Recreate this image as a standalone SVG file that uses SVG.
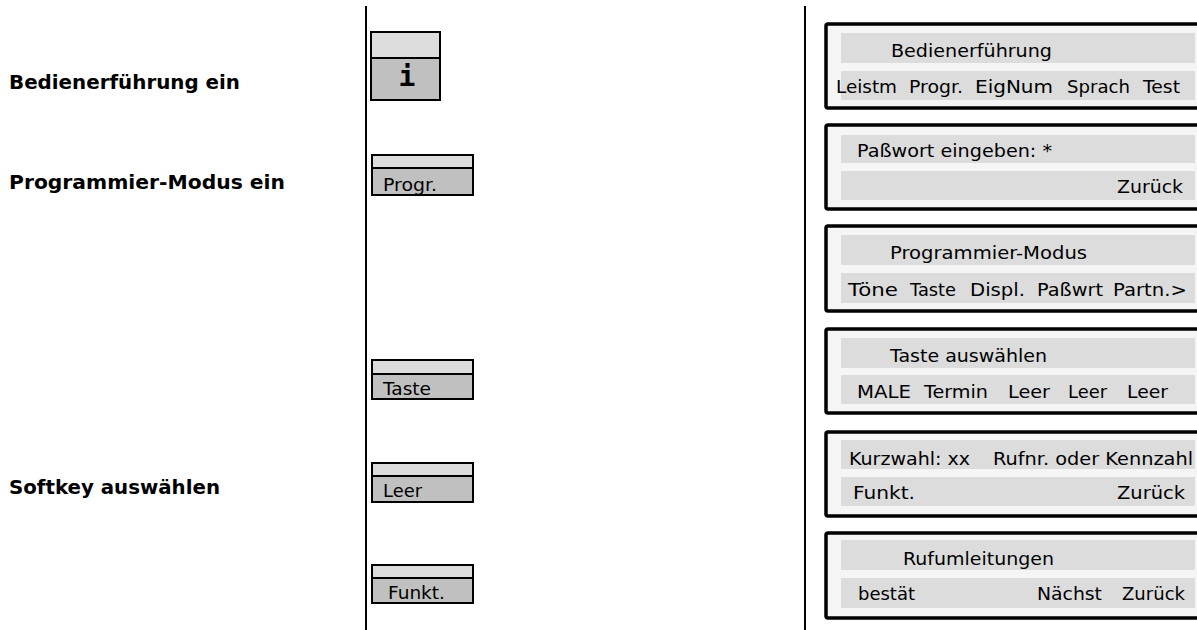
<svg xmlns="http://www.w3.org/2000/svg" width="1197" height="630" viewBox="0 0 1197 630">
<style>
.lbl{font-family:"DejaVu Sans","Liberation Sans",sans-serif;font-weight:bold;font-size:20px;fill:#000}
.kt{font-family:"DejaVu Sans","Liberation Sans",sans-serif;font-size:18px;fill:#000}
.pt{font-family:"DejaVu Sans","Liberation Sans",sans-serif;font-size:17.5px;fill:#000}
.ktop{fill:#dcdcdc;stroke:#000;stroke-width:2}
.kbot{fill:#c0c0c0;stroke:#000;stroke-width:2}
.panel{fill:#f5f5f5;stroke:#000;stroke-width:3.5}
.band{fill:#dcdcdc}
.sep{stroke:#000;stroke-width:2}
</style>
<rect width="1197" height="630" fill="#fff"/>
<g id="separators">
<line class="sep" x1="366" y1="6" x2="366" y2="630"/>
<line class="sep" x1="805" y1="6" x2="805" y2="630"/>
</g>
<g id="labels">
<text class="lbl" x="9" y="89" textLength="231" lengthAdjust="spacingAndGlyphs">Bedienerführung ein</text>
<text class="lbl" x="9" y="189" textLength="276" lengthAdjust="spacingAndGlyphs">Programmier-Modus ein</text>
<text class="lbl" x="9" y="494" textLength="211" lengthAdjust="spacingAndGlyphs">Softkey auswählen</text>
</g>
<g id="key-i">
<rect class="ktop" x="371" y="32" width="69" height="26"/>
<rect class="kbot" x="371" y="58" width="69" height="42"/>
<text x="407" y="86" text-anchor="middle" style="font-family:'DejaVu Sans Mono','Liberation Mono',monospace;font-weight:bold;font-size:28px">i</text>
</g>
<g id="key-progr">
<rect class="ktop" x="372" y="155" width="101" height="13"/>
<rect class="kbot" x="372" y="168" width="101" height="27"/>
<text class="kt" x="383" y="191" textLength="54" lengthAdjust="spacingAndGlyphs">Progr.</text>
</g>
<g id="key-taste">
<rect class="ktop" x="372" y="360" width="101" height="14"/>
<rect class="kbot" x="372" y="374" width="101" height="25"/>
<text class="kt" x="383" y="395" textLength="48" lengthAdjust="spacingAndGlyphs">Taste</text>
</g>
<g id="key-leer">
<rect class="ktop" x="372" y="463" width="101" height="13"/>
<rect class="kbot" x="372" y="476" width="101" height="26"/>
<text class="kt" x="383" y="497" textLength="39" lengthAdjust="spacingAndGlyphs">Leer</text>
</g>
<g id="key-funkt">
<rect class="ktop" x="372" y="565" width="101" height="13"/>
<rect class="kbot" x="372" y="578" width="101" height="25"/>
<text class="kt" x="388" y="599" textLength="57" lengthAdjust="spacingAndGlyphs">Funkt.</text>
</g>
<g id="panel-1">
<rect class="panel" x="826" y="24" width="390" height="84" rx="2"/>
<rect class="band" x="841" y="33" width="354" height="30"/>
<rect class="band" x="841" y="71" width="354" height="29"/>
<text class="pt" x="891" y="57" textLength="161" lengthAdjust="spacingAndGlyphs">Bedienerführung</text>
<text class="pt" x="836" y="93" textLength="61" lengthAdjust="spacingAndGlyphs">Leistm</text>
<text class="pt" x="909" y="93" textLength="54" lengthAdjust="spacingAndGlyphs">Progr.</text>
<text class="pt" x="975" y="93" textLength="78" lengthAdjust="spacingAndGlyphs">EigNum</text>
<text class="pt" x="1067" y="93" textLength="63" lengthAdjust="spacingAndGlyphs">Sprach</text>
<text class="pt" x="1143" y="93" textLength="37" lengthAdjust="spacingAndGlyphs">Test</text>
</g>
<g id="panel-2">
<rect class="panel" x="826" y="125" width="390" height="84" rx="2"/>
<rect class="band" x="841" y="135" width="354" height="28"/>
<rect class="band" x="841" y="171" width="354" height="29"/>
<text class="pt" x="857" y="157" textLength="195" lengthAdjust="spacingAndGlyphs">Paßwort eingeben: *</text>
<text class="pt" x="1117" y="193" textLength="66" lengthAdjust="spacingAndGlyphs">Zurück</text>
</g>
<g id="panel-3">
<rect class="panel" x="826" y="226" width="390" height="85" rx="2"/>
<rect class="band" x="841" y="235" width="354" height="30"/>
<rect class="band" x="841" y="273" width="354" height="30"/>
<text class="pt" x="890" y="259" textLength="197" lengthAdjust="spacingAndGlyphs">Programmier-Modus</text>
<text class="pt" x="848" y="296" textLength="50" lengthAdjust="spacingAndGlyphs">Töne</text>
<text class="pt" x="910" y="296" textLength="46" lengthAdjust="spacingAndGlyphs">Taste</text>
<text class="pt" x="970" y="296" textLength="55" lengthAdjust="spacingAndGlyphs">Displ.</text>
<text class="pt" x="1037" y="296" textLength="66" lengthAdjust="spacingAndGlyphs">Paßwrt</text>
<text class="pt" x="1113" y="296" textLength="74" lengthAdjust="spacingAndGlyphs">Partn.&gt;</text>
</g>
<g id="panel-4">
<rect class="panel" x="826" y="329" width="390" height="84" rx="2"/>
<rect class="band" x="841" y="338" width="354" height="30"/>
<rect class="band" x="841" y="375" width="354" height="29"/>
<text class="pt" x="890" y="362" textLength="157" lengthAdjust="spacingAndGlyphs">Taste auswählen</text>
<text class="pt" x="857" y="398" textLength="54" lengthAdjust="spacingAndGlyphs">MALE</text>
<text class="pt" x="924" y="398" textLength="64" lengthAdjust="spacingAndGlyphs">Termin</text>
<text class="pt" x="1008" y="398" textLength="42" lengthAdjust="spacingAndGlyphs">Leer</text>
<text class="pt" x="1068" y="398" textLength="39" lengthAdjust="spacingAndGlyphs">Leer</text>
<text class="pt" x="1127" y="398" textLength="41" lengthAdjust="spacingAndGlyphs">Leer</text>
</g>
<g id="panel-5">
<rect class="panel" x="826" y="432" width="390" height="84" rx="2"/>
<rect class="band" x="841" y="440" width="354" height="29"/>
<rect class="band" x="841" y="477" width="354" height="29"/>
<text class="pt" x="849" y="465" textLength="121" lengthAdjust="spacingAndGlyphs">Kurzwahl: xx</text>
<text class="pt" x="993" y="465" textLength="200" lengthAdjust="spacingAndGlyphs">Rufnr. oder Kennzahl</text>
<text class="pt" x="853" y="499" textLength="62" lengthAdjust="spacingAndGlyphs">Funkt.</text>
<text class="pt" x="1117" y="499" textLength="68" lengthAdjust="spacingAndGlyphs">Zurück</text>
</g>
<g id="panel-6">
<rect class="panel" x="826" y="533" width="390" height="85" rx="2"/>
<rect class="band" x="841" y="540" width="354" height="30"/>
<rect class="band" x="841" y="578" width="354" height="30"/>
<text class="pt" x="903" y="565" textLength="151" lengthAdjust="spacingAndGlyphs">Rufumleitungen</text>
<text class="pt" x="858" y="600" textLength="57" lengthAdjust="spacingAndGlyphs">bestät</text>
<text class="pt" x="1037" y="600" textLength="65" lengthAdjust="spacingAndGlyphs">Nächst</text>
<text class="pt" x="1122" y="600" textLength="63" lengthAdjust="spacingAndGlyphs">Zurück</text>
</g>
</svg>
